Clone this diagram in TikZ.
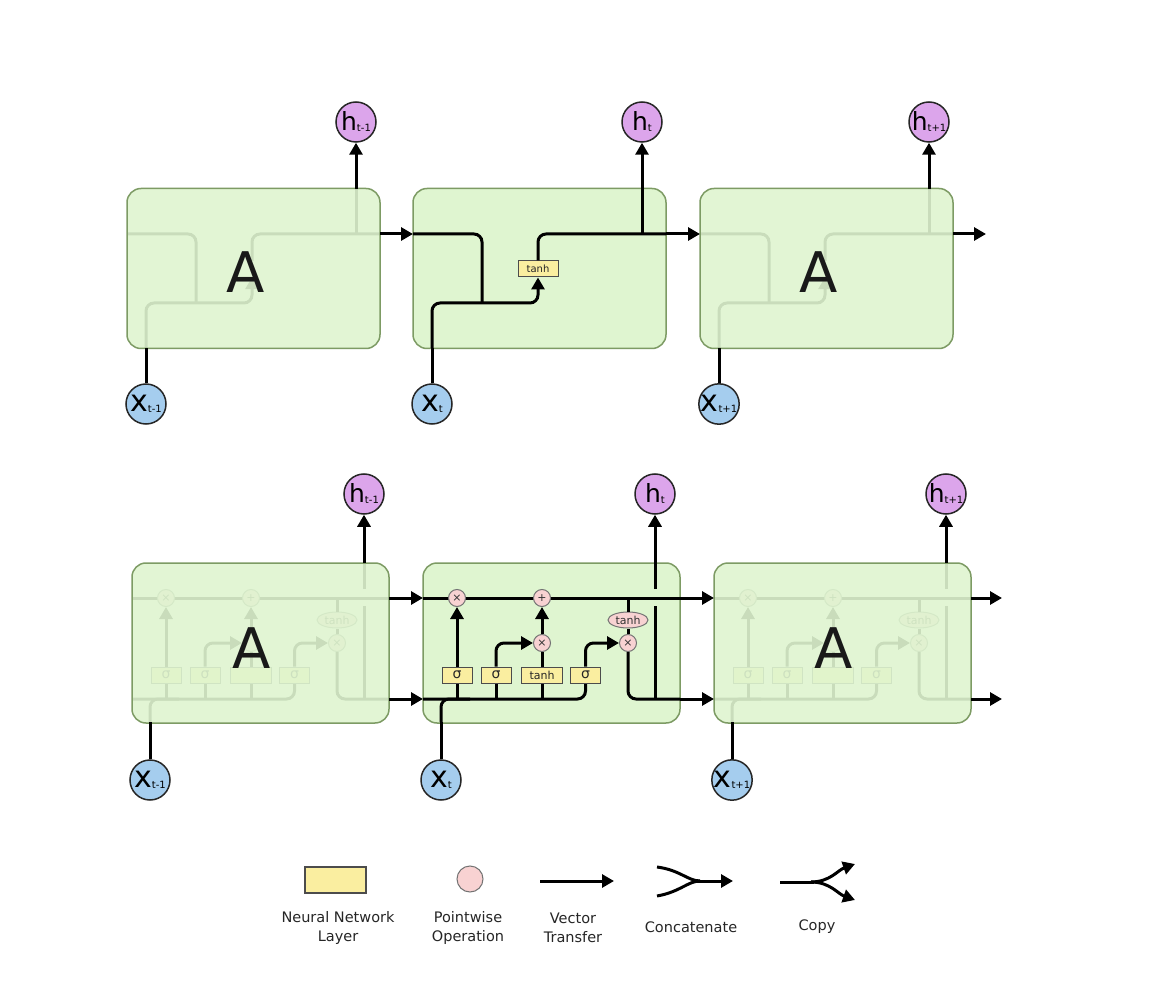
\documentclass[tikz,border=0pt]{standalone}
\usepackage{fontspec}
\setmainfont{DejaVu Sans}
\usetikzlibrary{arrows.meta,shapes.geometric}
\definecolor{cellfill}{RGB}{223,245,208}
\definecolor{celldraw}{RGB}{125,155,100}
\definecolor{nnfill}{RGB}{250,238,160}
\definecolor{pwfill}{RGB}{248,210,210}
\definecolor{hfill}{RGB}{220,165,235}
\definecolor{xfill}{RGB}{165,205,238}
\tikzset{
  wire/.style={line width=3pt},
  wirearr/.style={line width=3pt,-{Triangle[length=12pt,width=13pt]}},
  topbox/.style={draw=celldraw,line width=1.5pt,fill=cellfill,rounded corners=14pt,minimum width=253pt,minimum height=160pt,inner sep=0pt},
  botbox/.style={topbox,minimum width=257pt},
  ghost/.style={fill opacity=0.9},
  bigA/.style={font=\fontsize{56}{56}\selectfont,text=black!90},
  hcirc/.style={circle,draw=black!85,line width=1.5pt,fill=hfill,minimum size=40pt,inner sep=0pt,font=\fontsize{25}{25}\selectfont},
  xcirc/.style={circle,draw=black!85,line width=1.5pt,fill=xfill,minimum size=40pt,inner sep=0pt,font=\fontsize{30}{30}\selectfont},
  nnbox/.style={draw=black!70,fill=nnfill,line width=1pt,minimum height=16pt,inner sep=0pt,text=black!85},
  hiddenbox/.style={minimum height=16pt,inner sep=0pt},
  pw/.style={circle,draw=black!55,fill=pwfill,line width=1pt,minimum size=17pt,inner sep=0pt,font=\fontsize{11}{11}\selectfont,text=black!80},
  pwell/.style={ellipse,draw=black!55,fill=pwfill,line width=1pt,minimum width=40pt,minimum height=16pt,inner sep=0pt,font=\fontsize{11}{11}\selectfont,text=black!80},
  lgtext/.style={align=center,font=\fontsize{14.5}{19}\selectfont,text=black!85}
}
\newcommand{\subs}[1]{\raisebox{-1pt}{\fontsize{10}{10}\selectfont #1}}
% #1 = style of the tanh layer box, #2 = its text
\newcommand{\topcell}[2]{%
  \coordinate (inL) at (413,234);
  \coordinate (outR) at (666,234);
  \coordinate (xin) at (432,348);
  \coordinate (hout) at (642,189);
  \node[#1,minimum width=40pt,font=\fontsize{10}{10}\selectfont] (T) at (538,269) {#2};
  \draw[wire,rounded corners=8pt] (inL) -| (482,303);
  \draw[wirearr,rounded corners=8pt] (xin) |- (538,303) -- (T.south);
  \draw[wire,rounded corners=8pt] (T.north) |- (outR);
  \draw[wire] (642,234) -- (hout);
}
% #1 = text of the tanh layer box, #2 = text of the input-gate product
\newcommand{\botcell}[2]{%
  \coordinate (cL) at (423,598);
  \coordinate (cR) at (680,598);
  \coordinate (hL) at (423,699);
  \coordinate (hR) at (680,699);
  \coordinate (xin) at (441,722);
  \coordinate (hout) at (655,563);
  \draw[wire] (cL) -- (cR);
  \draw[wire,rounded corners=8pt] (hL) -| (585.5,683);
  \draw[wire,rounded corners=8pt] (xin) |- (470,699);
  \node[nnbox,minimum width=30pt,font=\fontsize{14}{14}\selectfont] (s1) at (457,675) {σ};
  \node[nnbox,minimum width=30pt,font=\fontsize{14}{14}\selectfont] (s2) at (496,675) {σ};
  \node[nnbox,minimum width=41pt,font=\fontsize{11}{11}\selectfont] (tb) at (542,675) {#1};
  \node[nnbox,minimum width=30pt,font=\fontsize{14}{14}\selectfont] (s4) at (585.5,675) {σ};
  \draw[wire] (457,699) -- (s1.south);
  \draw[wire] (496,699) -- (s2.south);
  \draw[wire] (542,699) -- (tb.south);
  \node[pw] (fx) at (457,598) {×};
  \node[pw] (add) at (542,598) {+};
  \node[pw] (ix) at (542,643) {#2};
  \node[pw] (ox) at (628,643) {×};
  \node[pwell] (te) at (628,620) {tanh};
  \draw[wirearr] (s1) -- (fx);
  \draw[wirearr,rounded corners=8pt] (s2.north) |- (ix.west);
  \draw[wire] (tb) -- (ix);
  \draw[wirearr] (ix) -- (add);
  \draw[wirearr,rounded corners=8pt] (s4.north) |- (ox.west);
  \draw[wire] (628,598) -- (te.north);
  \draw[wire] (te) -- (ox);
  \draw[wire,rounded corners=8pt] (ox.south) |- (hR);
  \draw[wire] (655,699) -- (655,606);
  \draw[wire] (655,589) -- (hout);
}
\begin{document}
\begin{tikzpicture}[x=1pt,y=-1pt]
\fill[white] (0,0) rectangle (1160,1008);
\useasboundingbox (0,0) rectangle (1160,1008);
% ---------- top row ----------
\begin{scope}[xshift=-286pt,name prefix=L-]
  \topcell{hiddenbox}{}
  \node[topbox,ghost] (box) at (539.5,268.5) {};
  \node[bigA] (A) at (531.5,272) {A};
\end{scope}
\begin{scope}[name prefix=M-]
  \node[topbox] (box) at (539.5,268.5) {};
  \topcell{nnbox}{tanh}
\end{scope}
\begin{scope}[xshift=287pt,name prefix=R-]
  \topcell{hiddenbox}{}
  \node[topbox,ghost] (box) at (539.5,268.5) {};
  \node[bigA] (A) at (531.5,272) {A};
\end{scope}
\node[hcirc] (ht1) at (356,122) {h\subs{t-1}};
\node[hcirc] (ht) at (642,122) {h\subs{t}};
\node[hcirc] (ht2) at (929,122) {h\subs{t+1}};
\node[xcirc] (xt1) at (146,404) {x\subs{t-1}};
\node[xcirc] (xt) at (432,404) {x\subs{t}};
\node[xcirc] (xt2) at (719,404) {x\subs{t+1}};
\coordinate (Rend) at (986,234);
\draw[wirearr] (L-outR) -- (M-inL);
\draw[wirearr] (M-outR) -- (R-inL);
\draw[wirearr] (R-outR) -- (Rend);
\draw[wirearr] (L-hout) -- (ht1);
\draw[wirearr] (M-hout) -- (ht);
\draw[wirearr] (R-hout) -- (ht2);
\draw[wire] (xt1) -- (L-xin);
\draw[wire] (xt) -- (M-xin);
\draw[wire] (xt2) -- (R-xin);
% ---------- bottom row ----------
\begin{scope}[xshift=-291pt,name prefix=BL-]
  \botcell{}{}
  \node[botbox,ghost] (box) at (551.5,643) {};
  \node[bigA] (A) at (543,648) {A};
\end{scope}
\begin{scope}[name prefix=BM-]
  \node[botbox] (box) at (551.5,643) {};
  \botcell{tanh}{×}
\end{scope}
\begin{scope}[xshift=291pt,name prefix=BR-]
  \botcell{}{}
  \node[botbox,ghost] (box) at (551.5,643) {};
  \node[bigA] (A) at (543,648) {A};
\end{scope}
\node[hcirc] (bht1) at (364,494) {h\subs{t-1}};
\node[hcirc] (bht) at (655,494) {h\subs{t}};
\node[hcirc] (bht2) at (946,494) {h\subs{t+1}};
\node[xcirc] (bxt1) at (150,780) {x\subs{t-1}};
\node[xcirc] (bxt) at (441,780) {x\subs{t}};
\node[xcirc] (bxt2) at (732,780) {x\subs{t+1}};
\coordinate (BRc) at (1002,598);
\coordinate (BRh) at (1002,699);
\draw[wirearr] (BL-cR) -- (BM-cL);
\draw[wirearr] (BL-hR) -- (BM-hL);
\draw[wirearr] (BM-cR) -- (BR-cL);
\draw[wirearr] (BM-hR) -- (BR-hL);
\draw[wirearr] (BR-cR) -- (BRc);
\draw[wirearr] (BR-hR) -- (BRh);
\draw[wirearr] (BL-hout) -- (bht1);
\draw[wirearr] (BM-hout) -- (bht);
\draw[wirearr] (BR-hout) -- (bht2);
\draw[wire] (bxt1) -- (BL-xin);
\draw[wire] (bxt) -- (BM-xin);
\draw[wire] (bxt2) -- (BR-xin);
% ---------- legend ----------
\node[nnbox,minimum width=61pt,minimum height=26pt,line width=1.5pt] (lgnn) at (335.5,880) {};
\node[pw,minimum size=26pt] (lgpw) at (470,879) {};
\coordinate (v1) at (540,881);
\coordinate (v2) at (614,881);
\draw[wirearr] (v1) -- (v2);
\coordinate (c1) at (657,867);
\coordinate (c2) at (657,896);
\coordinate (cm) at (700,881);
\coordinate (cm0) at (697,881);
\coordinate (c3) at (733,881);
\draw[wire] (c1) .. controls (680,870) and (688,881) .. (cm);
\draw[wire] (c2) .. controls (680,892) and (688,881) .. (cm);
\draw[wirearr] (cm0) -- (c3);
\coordinate (p1) at (780,882);
\coordinate (p2) at (814,882);
\coordinate (p0) at (811,882);
\coordinate (p3) at (855,864);
\coordinate (p4) at (855,900);
\draw[wire] (p1) -- (p2);
\draw[wirearr] (p0) .. controls (830,882) and (838,870) .. (p3);
\draw[wirearr] (p0) .. controls (830,882) and (838,894) .. (p4);
\node[lgtext] (t1) at (338,928) {Neural Network\\Layer};
\node[lgtext] (t2) at (468,928) {Pointwise\\Operation};
\node[lgtext] (t3) at (573,928) {Vector\\Transfer};
\node[lgtext] (t4) at (691,927) {Concatenate};
\node[lgtext] (t5) at (817,927) {Copy};
\end{tikzpicture}
\end{document}
